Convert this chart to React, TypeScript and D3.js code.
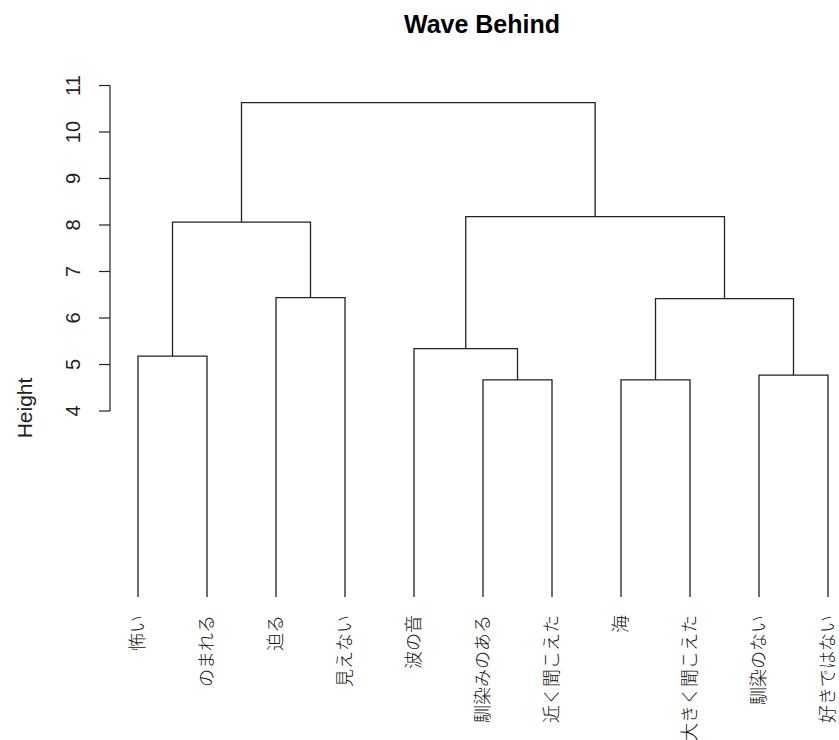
import React from "react";
import * as d3 from "d3";

// Leaf labels in dendrogram order
const leafLabels = [
  "怖い",
  "のまれる",
  "迫る",
  "見えない",
  "波の音",
  "馴染みのある",
  "近く聞こえた",
  "海",
  "大きく聞こえた",
  "馴染のない",
  "好きではない",
];

// Merge steps (hclust style): negative = leaf (1-based), positive = earlier merge
const mergeLeft = [-6, -8, -10, -1, -5, -3, 2, 4, 5, 8];
const mergeRight = [-7, -9, -11, -2, 1, -4, 3, 6, 7, 9];
const mergeHeight = [4.67, 4.67, 4.77, 5.18, 5.34, 6.44, 6.415, 8.06, 8.18, 10.63];

const yTicks = [4, 5, 6, 7, 8, 9, 10, 11];

const W = 839;
const H = 740;

export default function App() {
  const x = d3
    .scalePoint<string>()
    .domain(leafLabels)
    .range([138, 828]);
  const y = d3.scaleLinear().domain([0, 11]).range([597, 85.5]);

  const mergeX: number[] = [];
  const nodeX = (id: number) => (id < 0 ? (x(leafLabels[-id - 1]) as number) : mergeX[id - 1]);
  const nodeY = (id: number) => (id < 0 ? y(0) : y(mergeHeight[id - 1]));

  const paths: string[] = [];
  mergeHeight.forEach((h, i) => {
    const a = mergeLeft[i];
    const b = mergeRight[i];
    const xa = nodeX(a);
    const xb = nodeX(b);
    const yh = y(h);
    mergeX.push((xa + xb) / 2);
    const p = d3.path();
    p.moveTo(xa, nodeY(a));
    p.lineTo(xa, yh);
    p.lineTo(xb, yh);
    p.lineTo(xb, nodeY(b));
    paths.push(p.toString());
  });

  const axisX = 110;
  const tickLen = 11;

  return (
    <svg
      width={W}
      height={H}
      style={{ position: "absolute", left: 0, top: 0, background: "#fff" }}
      fontFamily="'Liberation Sans', Arial, sans-serif"
    >
      <text
        x={482}
        y={33}
        textAnchor="middle"
        fontWeight="bold"
        fontSize={25}
        fill="#000"
      >
        Wave Behind
      </text>

      {/* y axis */}
      <g stroke="#222" strokeWidth={1.2} fill="none">
        <line x1={axisX} x2={axisX} y1={y(yTicks[0])} y2={y(yTicks[yTicks.length - 1])} />
        {yTicks.map((t) => (
          <line key={t} x1={axisX - tickLen} x2={axisX} y1={y(t)} y2={y(t)} />
        ))}
      </g>
      {yTicks.map((t) => (
        <text
          key={t}
          transform={`translate(80,${y(t)}) rotate(-90)`}
          textAnchor="middle"
          fontSize={20}
          fill="#222"
        >
          {t}
        </text>
      ))}
      <text
        transform={`translate(32,408) rotate(-90)`}
        textAnchor="middle"
        fontSize={21}
        fill="#222"
      >
        Height
      </text>

      {/* dendrogram branches */}
      <g stroke="#222" strokeWidth={1.3} fill="none">
        {paths.map((d, i) => (
          <path key={i} d={d} />
        ))}
      </g>

      {/* leaf labels */}
      {leafLabels.map((l) => (
        <text
          key={l}
          transform={`translate(${x(l)},615) rotate(-90)`}
          textAnchor="end"
          dy="0.35em"
          fontSize={18}
          fontFamily="'Noto Sans CJK JP', sans-serif"
          fontWeight={300}
          fill="#111"
        >
          {l}
        </text>
      ))}
    </svg>
  );
}
